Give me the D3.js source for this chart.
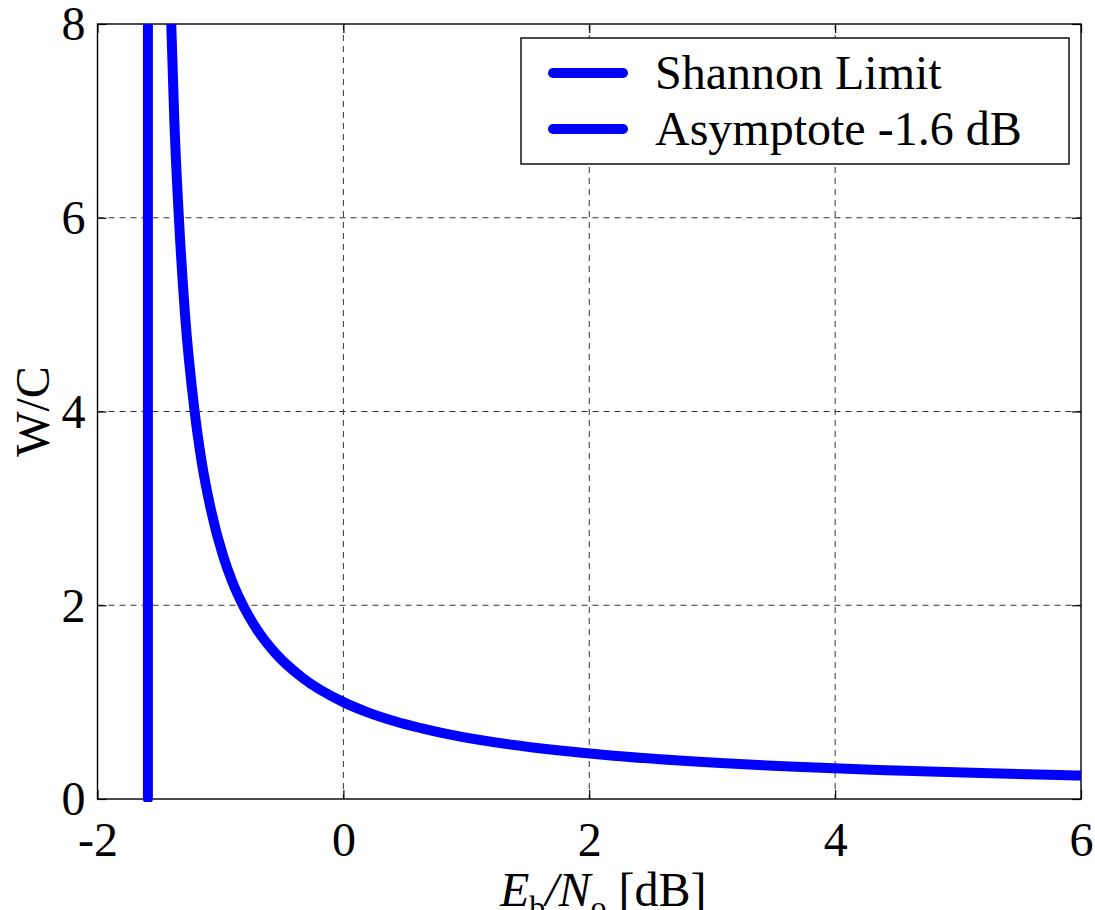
<!DOCTYPE html>
<html>
<head>
<meta charset="utf-8">
<script src="https://cdn.jsdelivr.net/npm/d3@7"></script>
<style>
  body { margin: 0; background: #fff; }
</style>
</head>
<body>
<script>
// Shannon limit curve (Eb/No in dB against W/C)
var ebnoDb = [-1.44, -1.423, -1.40, -1.375, -1.338, -1.288, -1.21, -1.155, -1.08, -0.976, -0.906,
              -0.817, -0.703, -0.55, -0.332, 0, 0.187, 0.425, 0.86, 1.761, 2.174, 2.701, 3.68,
              4.352, 5.116, 5.74, 6.096];
var wOverC = [10, 9, 8, 7, 6, 5, 4, 3.5, 3, 2.5, 2.25,
              2, 1.75, 1.5, 1.25, 1, 0.9, 0.8, 0.667, 0.5, 0.45, 0.4, 0.333,
              0.3, 0.27, 0.25, 0.24];

// vertical asymptote at -1.6 dB
var asymX = [-1.59, -1.59];
var asymY = [0, 8];

var xTicks = [-2, 0, 2, 4, 6];
var yTicks = [0, 2, 4, 6, 8];
var legendNames = ["Shannon Limit", "Asymptote -1.6 dB"];

var FONT = "Liberation Serif";

var w = 1095, h = 910;
var margin = {top: 24, right: 14, bottom: 111, left: 97.5};
var pw = w - margin.left - margin.right;
var ph = h - margin.top - margin.bottom;

var svg = d3.select("body").append("svg")
    .attr("width", w)
    .attr("height", h)
    .attr("font-family", FONT);

var x = d3.scaleLinear().domain([-2, 6]).range([0, pw]);
var y = d3.scaleLinear().domain([0, 8]).range([ph, 0]);

var g = svg.append("g")
    .attr("transform", "translate(" + margin.left + "," + margin.top + ")");

g.append("clipPath").attr("id", "plotclip")
  .append("rect")
    .attr("x", 0).attr("y", 0)
    .attr("width", pw).attr("height", ph + 3);

//grid lines, dashed
g.selectAll("line.gx")
  .data(xTicks.slice(1, -1))
  .enter().append("line")
    .attr("class", "gx")
    .attr("x1", function(d) { return x(d); })
    .attr("x2", function(d) { return x(d); })
    .attr("y1", 0).attr("y2", ph)
    .attr("stroke", "#333").attr("stroke-width", 1)
    .attr("stroke-dasharray", "6,5");

g.selectAll("line.gy")
  .data(yTicks.slice(1, -1))
  .enter().append("line")
    .attr("class", "gy")
    .attr("y1", function(d) { return y(d); })
    .attr("y2", function(d) { return y(d); })
    .attr("x1", 0).attr("x2", pw)
    .attr("stroke", "#333").attr("stroke-width", 1)
    .attr("stroke-dasharray", "6,5");

//axes: ticks inward on all four sides
var tickLen = 9;
var xb = g.append("g").attr("transform", "translate(0," + ph + ")")
    .call(d3.axisBottom(x).tickValues(xTicks).tickSize(-tickLen).tickPadding(21)
          .tickFormat(d3.format("d")));
var xt = g.append("g")
    .call(d3.axisTop(x).tickValues(xTicks).tickSize(-tickLen).tickFormat(""));
var yl = g.append("g")
    .call(d3.axisLeft(y).tickValues(yTicks).tickSize(-tickLen).tickPadding(12)
          .tickFormat(d3.format("d")));
var yr = g.append("g").attr("transform", "translate(" + pw + ",0)")
    .call(d3.axisRight(y).tickValues(yTicks).tickSize(-tickLen).tickFormat(""));

[xb, xt, yl, yr].forEach(function(a) {
    a.attr("font-family", FONT).attr("font-size", 48);
    a.select(".domain").remove();
    a.selectAll("line").attr("stroke", "#000").attr("stroke-width", 1.2);
    a.selectAll("text")
        .attr("font-family", FONT)
        .attr("font-size", 48)
        .attr("fill", "#000");
});
xb.selectAll("text").attr("dy", "0.75em");
yl.selectAll("text").attr("dy", "0.33em");
// MATLAB shows -2 with a hyphen
xb.selectAll("text").text(function(d) { return String(d); });

//plot box
g.append("rect")
    .attr("width", pw).attr("height", ph)
    .attr("fill", "none")
    .attr("stroke", "#000").attr("stroke-width", 1.4);

var line = d3.line()
    .x(function(d) { return x(d[0]); })
    .y(function(d) { return y(d[1]); })
    .curve(d3.curveMonotoneX);

var shannon = ebnoDb.map(function(v, i) { return [v, wOverC[i]]; });
var asym = asymX.map(function(v, i) { return [v, asymY[i]]; });

var lines = g.append("g").attr("clip-path", "url(#plotclip)");

lines.append("path")
    .datum(shannon)
    .attr("d", line)
    .attr("fill", "none")
    .attr("stroke", "#0000ff")
    .attr("stroke-width", 10)
    .attr("stroke-linejoin", "round");

lines.append("path")
    .datum(asym)
    .attr("d", d3.line().x(function(d) { return x(d[0]); }).y(function(d) { return y(d[1]); }))
    .attr("fill", "none")
    .attr("stroke", "#0000ff")
    .attr("stroke-width", 10)
    .attr("stroke-linecap", "round");

//legend
var lg = svg.append("g").attr("transform", "translate(521,38)");
lg.append("rect")
    .attr("width", 548).attr("height", 126)
    .attr("fill", "#fff")
    .attr("stroke", "#000").attr("stroke-width", 1.4);

var rows = lg.selectAll("g.row")
  .data(legendNames)
  .enter().append("g")
    .attr("class", "row")
    .attr("transform", function(d, i) { return "translate(0," + (35 + i * 56) + ")"; });

rows.append("line")
    .attr("x1", 32).attr("x2", 102)
    .attr("stroke", "#0000ff")
    .attr("stroke-width", 10)
    .attr("stroke-linecap", "round");

rows.append("text")
    .attr("x", 134)
    .attr("y", 16)
    .attr("font-family", FONT)
    .attr("font-size", 48)
    .attr("fill", "#000")
    .text(function(d) { return d; });

//axis labels
svg.append("text")
    .attr("transform", "translate(49," + (margin.top + ph / 2) + ") rotate(-90)")
    .attr("text-anchor", "middle")
    .attr("font-family", FONT)
    .attr("font-size", 48)
    .attr("fill", "#000")
    .text("W/C");

var xl = svg.append("text")
    .attr("x", margin.left + pw / 2 + 14)
    .attr("y", 906)
    .attr("text-anchor", "middle")
    .attr("font-family", FONT)
    .attr("font-size", 48)
    .attr("fill", "#000");
xl.append("tspan").attr("font-style", "italic").text("E");
xl.append("tspan").attr("font-size", 32).attr("dy", 12).text("b");
xl.append("tspan").attr("dy", -12).attr("font-style", "italic").text("/N");
xl.append("tspan").attr("font-size", 32).attr("dy", 12).text("o");
xl.append("tspan").attr("dy", -12).text(" [dB]");
</script>
</body>
</html>
